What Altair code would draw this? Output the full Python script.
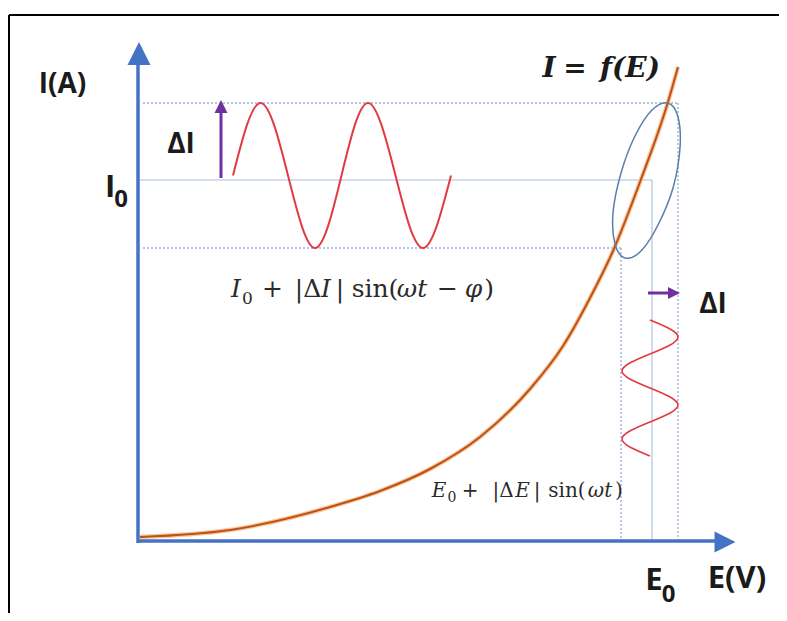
import altair as alt
import pandas as pd

# ---------------- data (schematic units: E in V, I in A) ----------------
# I = f(E) polarisation curve
curve_E = [0.02, 0.92, 1.92, 2.42, 2.92, 3.42, 3.92, 4.25, 4.52, 4.75, 5.02, 5.30, 5.40]
curve_I = [0.04, 0.11, 0.34, 0.50, 0.72, 1.04, 1.52, 1.95, 2.43, 2.90, 3.59, 4.39, 4.74]

# operating point and perturbation limits
E0 = 5.14
I0 = 3.61
E_lo, E_hi = 4.83, 5.40
I_lo, I_hi = 2.93, 4.38

# current response wave  I0 + |dI| sin(wt - phi)  (read at quarter periods)
waveI_E = [0.95, 1.225, 1.50, 1.77, 2.035, 2.30, 2.575, 2.85, 3.13]
waveI_I = [3.655, 4.38, 3.655, 2.93, 3.655, 4.38, 3.655, 2.93, 3.655]

# potential perturbation wave  E0 + |dE| sin(wt)  (drawn vertically)
waveE_E = [5.12, 5.40, 5.12, 4.84, 5.12, 5.40, 5.12, 4.84, 5.12]
waveE_I = [2.21, 2.04, 1.87, 1.70, 1.53, 1.36, 1.19, 1.02, 0.85]

# ellipse around the operating point
ell_E = [5.30, 5.40, 5.42, 5.35, 5.20, 5.03, 4.87, 4.77, 4.75, 4.83, 4.97, 5.14]
ell_I = [4.38, 4.24, 3.93, 3.53, 3.16, 2.90, 2.83, 2.97, 3.28, 3.68, 4.05, 4.31]

# axis extents
yaxis_top = 4.76
xaxis_right = 5.80

# labels (bold sans)
big_lab = ["I", "E", "E(V)"]
big_E = [-0.28, 5.16, 5.99]
big_I = [3.44, -0.49, -0.47]
mid_lab = ["I(A)", "ΔI", "ΔI"]
mid_E = [-0.755, 0.43, 5.75]
mid_I = [4.48, 3.88, 2.28]
sub_lab = ["0", "0"]
sub_E = [-0.17, 5.305]
sub_I = [3.34, -0.61]

# formula  I0 + |ΔI| sin(ωt − φ)
f1_up = ["+", "|Δ", "|", "sin(", "−", ")"]
f1_up_E = [1.345, 1.70, 2.02, 2.37, 3.095, 3.51]
f1_it = ["I", "I", "ωt", "φ"]
f1_it_E = [0.98, 1.88, 2.74, 3.355]
f1_I = 2.44
f1_sub_E, f1_sub_I = 1.095, 2.37

# formula  E0 + |ΔE| sin(ωt)
f2_up = ["+", "|Δ", "|", "sin(", ")"]
f2_up_E = [3.32, 3.65, 3.99, 4.29, 4.81]
f2_it = ["E", "E", "ωt"]
f2_it_E = [3.01, 3.845, 4.62]
f2_I = 0.44
f2_sub_E, f2_sub_I = 3.14, 0.39

# I = f(E)
f3_it = ["I", "f(E)"]
f3_it_E = [4.11, 4.92]
f3_up = ["="]
f3_up_E = [4.37]
f3_I = 4.64

# frame
frame_left, frame_top = -1.29, 5.26

# ---------------- chart ----------------
XD = [-1.30, 6.41]
YD = [-0.72, 5.33]


def X(f="E"):
    return alt.X(f"{f}:Q", scale=alt.Scale(domain=XD, nice=False, zero=False), axis=None)


def Y(f="I"):
    return alt.Y(f"{f}:Q", scale=alt.Scale(domain=YD, nice=False, zero=False), axis=None)


def rules(rows, **mark):
    df = pd.DataFrame(rows, columns=["E", "E2", "I", "I2"])
    return alt.Chart(df).mark_rule(**mark).encode(
        x=X("E"), x2="E2:Q", y=Y("I"), y2="I2:Q")


def line(Es, Is, **mark):
    df = pd.DataFrame({"E": Es, "I": Is, "k": list(range(len(Es)))})
    return alt.Chart(df).mark_line(**mark).encode(
        x=X(), y=Y(), order=alt.Order("k:Q"))


def texts(labels, Es, Is, **mark):
    if not isinstance(Is, list):
        Is = [Is] * len(labels)
    df = pd.DataFrame({"t": labels, "E": Es, "I": Is})
    base = dict(align="center", baseline="alphabetic")
    base.update(mark)
    return alt.Chart(df).mark_text(**base).encode(x=X(), y=Y(), text="t:N")


def head(E, I, path, side, color):
    df = pd.DataFrame({"E": [E], "I": [I]})
    return alt.Chart(df).mark_point(shape=path, size=side * side, filled=True,
                                    color=color, opacity=1, strokeWidth=0).encode(x=X(), y=Y())


BLUE = "#4472C4"
LIGHT = "#C5D3EA"
DOT = "#9BB3DA"
RED = "#E23A44"
PURPLE = "#7030A0"
TXT = "#1b1b1b"
FTXT = "#2a2a2a"
SERIF = "DejaVu Serif"
UP = "M0,-1L1,1L-1,1Z"
RIGHT = "M1,0L-1,1L-1,-1Z"

layers = [
    # frame
    rules([[frame_left, frame_left, frame_top, YD[0]],
           [frame_left, XD[1], frame_top, frame_top]], color="#000000", strokeWidth=2),
    # guide lines
    rules([[0.0, E0, I0, I0], [E0, E0, I0, 0.0]], color=LIGHT, strokeWidth=1.6),
    rules([[0.05, E_hi, I_hi, I_hi], [0.05, E_lo, I_lo, I_lo],
           [E_lo, E_lo, I_lo, 0.0], [E_hi, E_hi, I_hi, 0.0]],
          color=DOT, strokeWidth=1.4, strokeDash=[2, 2]),
    # curve (glow + core)
    line(curve_E, curve_I, color="#F6C7A3", strokeWidth=4.5, interpolate="monotone"),
    line(curve_E, curve_I, color="#C0500E", strokeWidth=2, interpolate="monotone"),
    # ellipse
    line(ell_E, ell_I, color="#5A7DAB", strokeWidth=1.5, interpolate="cardinal-closed"),
    # waves
    line(waveI_E, waveI_I, color=RED, strokeWidth=2, interpolate="natural"),
    line(waveE_E, waveE_I, color=RED, strokeWidth=1.6, interpolate="natural"),
    # axes
    rules([[0.0, 0.0, -0.02, yaxis_top], [-0.01, xaxis_right, 0.0, 0.0]],
          color=BLUE, strokeWidth=3.5),
    head(0.01, 4.875, UP, 23, BLUE),
    head(5.87, -0.01, RIGHT, 21, BLUE),
    # purple arrows
    rules([[0.83, 0.83, 3.63, 4.30], [5.10, 5.32, 2.48, 2.48]], color=PURPLE, strokeWidth=3),
    head(0.83, 4.345, UP, 13, PURPLE),
    head(5.36, 2.48, RIGHT, 12, PURPLE),
    # bold sans labels
    texts(big_lab, big_E, big_I, font="Open Sans", fontWeight="bold", fontSize=31, color=TXT),
    texts(mid_lab, mid_E, mid_I, font="Open Sans", fontWeight="bold", fontSize=28, color=TXT),
    texts(sub_lab, sub_E, sub_I, font="Open Sans", fontWeight="bold", fontSize=24, color=TXT),
    # formula 1
    texts(f1_up, f1_up_E, f1_I, font=SERIF, fontSize=25, color=FTXT),
    texts(f1_it, f1_it_E, f1_I, font=SERIF, fontStyle="italic", fontSize=25, color=FTXT),
    texts(["0"], [f1_sub_E], [f1_sub_I], font=SERIF, fontSize=17, color=FTXT),
    # formula 2
    texts(f2_up, f2_up_E, f2_I, font=SERIF, fontSize=20, color=FTXT),
    texts(f2_it, f2_it_E, f2_I, font=SERIF, fontStyle="italic", fontSize=20, color=FTXT),
    texts(["0"], [f2_sub_E], [f2_sub_I], font=SERIF, fontSize=14, color=FTXT),
    # I = f(E)
    texts(f3_it, f3_it_E, f3_I, font=SERIF, fontStyle="italic", fontWeight="bold", fontSize=28, color=TXT),
    texts(f3_up, f3_up_E, f3_I, font=SERIF, fontWeight="bold", fontSize=28, color=TXT),
]

chart = alt.layer(*layers).properties(
    width=771, height=605, padding=0, autosize=alt.AutoSizeParams(type="none"),
    background="#ffffff",
).configure_view(stroke=None)

chart.save("out.html", embed_options={"renderer": "svg", "actions": False})
